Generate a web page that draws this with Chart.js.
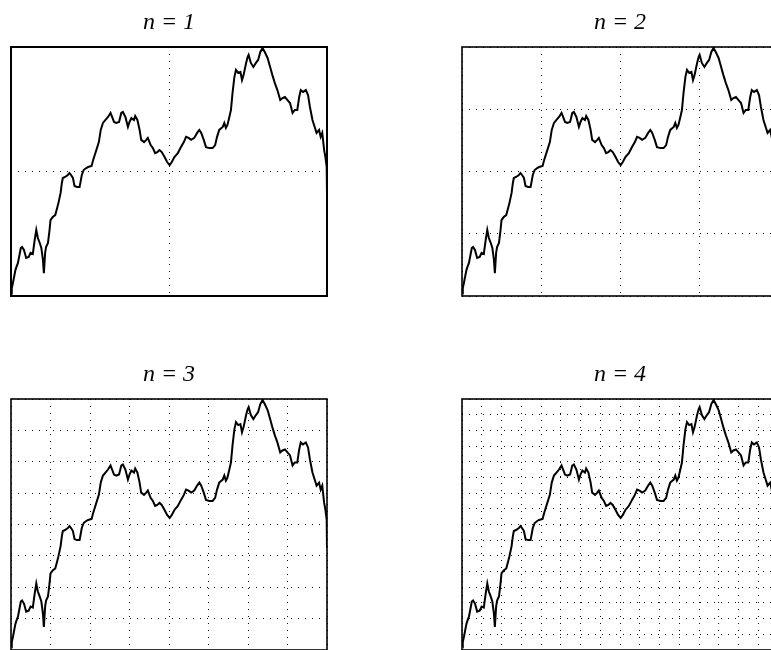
<!DOCTYPE html>
<html>
<head>
<meta charset="utf-8">
<title>n = 1 … 4</title>
<script src="https://cdn.jsdelivr.net/npm/chart.js@4.4.0/dist/chart.umd.min.js"></script>
<style>
  html, body { margin: 0; padding: 0; background: #fff; width: 771px; height: 650px; overflow: hidden; position: relative; }
  canvas { position: absolute; }
</style>
</head>
<body>
<canvas id="c1" width="340" height="300" style="left:0;top:0"></canvas>
<canvas id="c2" width="340" height="300" style="left:451px;top:0"></canvas>
<canvas id="c3" width="340" height="300" style="left:0;top:352px"></canvas>
<canvas id="c4" width="340" height="300" style="left:451px;top:352px"></canvas>
<script>
// time (fraction of the interval) and path value (fraction of the range)
const timeValues = [
  0.000, 0.002, 0.003, 0.006, 0.014, 0.017, 0.022, 0.031, 0.035, 0.041,
  0.048, 0.056, 0.062, 0.069, 0.075, 0.080, 0.085, 0.091, 0.096, 0.101,
  0.104, 0.108, 0.111, 0.117, 0.122, 0.125, 0.132, 0.140, 0.146, 0.150,
  0.157, 0.161, 0.164, 0.171, 0.180, 0.185, 0.190, 0.196, 0.201, 0.209,
  0.217, 0.220, 0.224, 0.230, 0.238, 0.244, 0.255, 0.260, 0.270, 0.278,
  0.284, 0.291, 0.299, 0.307, 0.315, 0.320, 0.326, 0.333, 0.342, 0.349,
  0.354, 0.362, 0.370, 0.375, 0.381, 0.389, 0.393, 0.400, 0.407, 0.412,
  0.421, 0.428, 0.433, 0.442, 0.449, 0.456, 0.463, 0.470, 0.477, 0.486,
  0.494, 0.502, 0.509, 0.517, 0.528, 0.538, 0.547, 0.554, 0.562, 0.570,
  0.580, 0.589, 0.596, 0.602, 0.610, 0.617, 0.628, 0.638, 0.646, 0.652,
  0.659, 0.670, 0.675, 0.680, 0.685, 0.691, 0.696, 0.701, 0.707, 0.712,
  0.719, 0.726, 0.731, 0.736, 0.744, 0.749, 0.752, 0.759, 0.767, 0.775,
  0.782, 0.789, 0.796, 0.803, 0.812, 0.820, 0.827, 0.835, 0.843, 0.852,
  0.859, 0.867, 0.875, 0.883, 0.891, 0.898, 0.906, 0.912, 0.917, 0.924,
  0.933, 0.940, 0.946, 0.954, 0.961, 0.967, 0.975, 0.980, 0.985, 0.991,
  0.995, 0.999, 1.000
];
const pathValues = [
  0.020, 0.016, 0.032, 0.052, 0.104, 0.116, 0.133, 0.193, 0.197, 0.185,
  0.153, 0.157, 0.173, 0.169, 0.225, 0.265, 0.233, 0.213, 0.193, 0.145,
  0.092, 0.173, 0.197, 0.213, 0.265, 0.305, 0.317, 0.325, 0.353, 0.373,
  0.414, 0.454, 0.474, 0.478, 0.486, 0.494, 0.486, 0.474, 0.442, 0.438,
  0.438, 0.458, 0.486, 0.506, 0.514, 0.518, 0.522, 0.546, 0.586, 0.618,
  0.667, 0.695, 0.707, 0.719, 0.735, 0.719, 0.699, 0.695, 0.699, 0.735,
  0.739, 0.719, 0.679, 0.699, 0.715, 0.707, 0.723, 0.707, 0.667, 0.627,
  0.618, 0.627, 0.635, 0.606, 0.594, 0.574, 0.578, 0.586, 0.578, 0.558,
  0.538, 0.526, 0.538, 0.558, 0.574, 0.598, 0.618, 0.639, 0.635, 0.627,
  0.635, 0.655, 0.667, 0.655, 0.627, 0.598, 0.594, 0.594, 0.606, 0.639,
  0.667, 0.679, 0.695, 0.675, 0.687, 0.719, 0.747, 0.815, 0.880, 0.908,
  0.896, 0.900, 0.867, 0.888, 0.936, 0.960, 0.968, 0.936, 0.920, 0.936,
  0.948, 0.980, 0.996, 0.980, 0.956, 0.920, 0.888, 0.855, 0.827, 0.787,
  0.795, 0.799, 0.787, 0.775, 0.735, 0.747, 0.747, 0.799, 0.827, 0.819,
  0.827, 0.807, 0.759, 0.707, 0.679, 0.655, 0.667, 0.639, 0.655, 0.586,
  0.558, 0.518, 0.406
];
// resolution level of each panel (grid = 2^n by 2^n)
const levels = [1, 2, 3, 4];
const panelTitles = ['n = 1', 'n = 2', 'n = 3', 'n = 4'];

const points = timeValues.map((t, i) => ({ x: t, y: pathValues[i] }));

// box around the plot area
const framePlugin = {
  id: 'frame',
  afterDraw(chart) {
    const { ctx, chartArea: a } = chart;
    ctx.save();
    ctx.strokeStyle = '#000';
    ctx.lineWidth = chart.canvas.id === 'c1' ? 2 : 1.6;
    ctx.strokeRect(a.left, a.top, a.right - a.left, a.bottom - a.top);
    ctx.restore();
  }
};

function dyadicTicks(n) {
  const count = Math.pow(2, n);
  const ticks = [];
  for (let k = 0; k <= count; k++) ticks.push({ value: k / count });
  return ticks;
}

function makePanel(id, idx) {
  const n = levels[idx];
  const axis = {
    type: 'linear',
    min: 0,
    max: 1,
    afterBuildTicks: scale => { scale.ticks = dyadicTicks(n); },
    ticks: { display: false },
    grid: { color: '#111', lineWidth: 1, drawTicks: false },
    border: { display: false, dash: [1, 6] }
  };
  const bottomPad = idx < 2 ? 4 : 2;
  return new Chart(document.getElementById(id), {
    type: 'line',
    data: {
      datasets: [{
        data: points,
        borderColor: '#000',
        borderWidth: 2,
        pointRadius: 0,
        tension: 0
      }]
    },
    options: {
      responsive: false,
      animation: false,
      events: [],
      layout: { padding: { left: 11, right: 13, top: 0, bottom: bottomPad } },
      scales: { x: axis, y: axis },
      plugins: {
        legend: { display: false },
        tooltip: { enabled: false },
        title: {
          display: true,
          text: panelTitles[idx],
          color: '#000',
          font: { family: '"Liberation Serif", "DejaVu Serif", serif', style: 'italic', weight: 'normal', size: 24 },
          padding: { top: 8, bottom: 10.2 }
        }
      }
    },
    plugins: [framePlugin]
  });
}

['c1', 'c2', 'c3', 'c4'].forEach((id, i) => makePanel(id, i));
</script>
</body>
</html>
